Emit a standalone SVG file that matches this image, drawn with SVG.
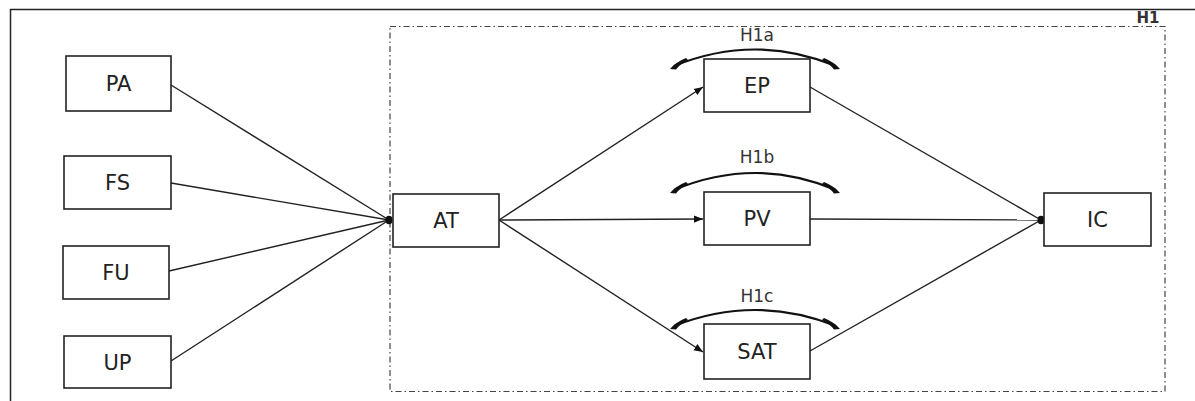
<svg xmlns="http://www.w3.org/2000/svg" width="1195" height="401" viewBox="0 0 1195 401">
<defs>
<style>
.node rect{fill:#fff;stroke:#222;stroke-width:1.6}
.node text{font-family:"DejaVu Sans",Verdana,sans-serif;font-size:21px;fill:#222;text-anchor:middle}
.conn line{stroke:#222;stroke-width:1.4}
.junction{fill:#111}
.arc{fill:none;stroke:#111;stroke-width:2.2}
.arcend{fill:#111;stroke:none}
.hl{font-family:"DejaVu Sans",Verdana,sans-serif;font-size:17px;fill:#333;text-anchor:middle}
</style>
<marker id="arr" viewBox="0 0 10 10" refX="10" refY="5" markerWidth="9" markerHeight="9" markerUnits="userSpaceOnUse" orient="auto">
<path d="M0,1 L10,5 L0,9 z" fill="#111"/>
</marker>
</defs>
<rect width="1195" height="401" fill="#fff"/>
<!-- outer frame -->
<path d="M10.5,401 V9.5 H1195" fill="none" stroke="#222" stroke-width="1.5"/>
<!-- H1 dashed boundary -->
<rect id="h1-box" x="390" y="26.5" width="775" height="365" fill="none" stroke="#444" stroke-width="1.2" stroke-dasharray="6 3 1.5 3"/>
<text x="1148" y="23" font-family="DejaVu Sans, Verdana, sans-serif" font-size="15" font-weight="bold" fill="#333" text-anchor="middle">H1</text>

<g id="connectors" class="conn">
<line x1="171" y1="85" x2="389" y2="220"/>
<line x1="171" y1="183" x2="389" y2="220"/>
<line x1="169" y1="271" x2="389" y2="220"/>
<line x1="171" y1="361" x2="389" y2="220"/>
<ellipse class="junction" cx="389" cy="220" rx="3.5" ry="4.2"/>
<line x1="499" y1="220" x2="703" y2="87" marker-end="url(#arr)"/>
<line x1="499" y1="220" x2="703" y2="219" marker-end="url(#arr)"/>
<line x1="499" y1="220" x2="703" y2="352" marker-end="url(#arr)"/>
<line x1="810" y1="87" x2="1041" y2="220"/>
<line x1="810" y1="219" x2="1041" y2="220"/>
<line x1="810" y1="351" x2="1041" y2="220"/>
<ellipse class="junction" cx="1041" cy="220" rx="3.5" ry="4.2"/>
</g>

<g id="moderation-h1a">
<path class="arc" d="M674,66 Q755,33 836,66"/>
<path class="arcend" d="M670,69 L676,69.5 Q680,64 688,60 L686,58 Q676,62 670,69 z"/>
<path class="arcend" d="M840,69 L834,69.5 Q830,64 822,60 L824,58 Q834,62 840,69 z"/>
<text class="hl" x="757" y="41">H1a</text>
</g>
<g id="moderation-h1b">
<path class="arc" d="M674,190 Q755,156 836,190"/>
<path class="arcend" d="M670,193 L676,193.5 Q680,188 688,184 L686,182 Q676,186 670,193 z"/>
<path class="arcend" d="M840,193 L834,193.5 Q830,188 822,184 L824,182 Q834,186 840,193 z"/>
<text class="hl" x="757" y="163">H1b</text>
</g>
<g id="moderation-h1c">
<path class="arc" d="M674,326 Q755,294 836,326"/>
<path class="arcend" d="M670,329 L676,329.5 Q680,324 688,320 L686,318 Q676,322 670,329 z"/>
<path class="arcend" d="M840,329 L834,329.5 Q830,324 822,320 L824,318 Q834,322 840,329 z"/>
<text class="hl" x="757" y="302">H1c</text>
</g>

<g id="node-PA" class="node"><rect x="66" y="56" width="105" height="55"/><text x="118.5" y="91">PA</text></g>
<g id="node-FS" class="node"><rect x="64" y="156" width="107" height="53"/><text x="117.5" y="190">FS</text></g>
<g id="node-FU" class="node"><rect x="63" y="246" width="106" height="53"/><text x="116" y="280">FU</text></g>
<g id="node-UP" class="node"><rect x="64" y="336" width="107" height="52"/><text x="117.5" y="370">UP</text></g>
<g id="node-AT" class="node"><rect x="393" y="194" width="106" height="53"/><text x="446" y="228">AT</text></g>
<g id="node-EP" class="node"><rect x="704" y="59" width="106" height="53"/><text x="757" y="93">EP</text></g>
<g id="node-PV" class="node"><rect x="704" y="192" width="106" height="53"/><text x="757" y="226">PV</text></g>
<g id="node-SAT" class="node"><rect x="704" y="324" width="106" height="55"/><text x="757" y="359">SAT</text></g>
<g id="node-IC" class="node"><rect x="1044" y="193" width="107" height="53"/><text x="1097.5" y="227">IC</text></g>
</svg>
